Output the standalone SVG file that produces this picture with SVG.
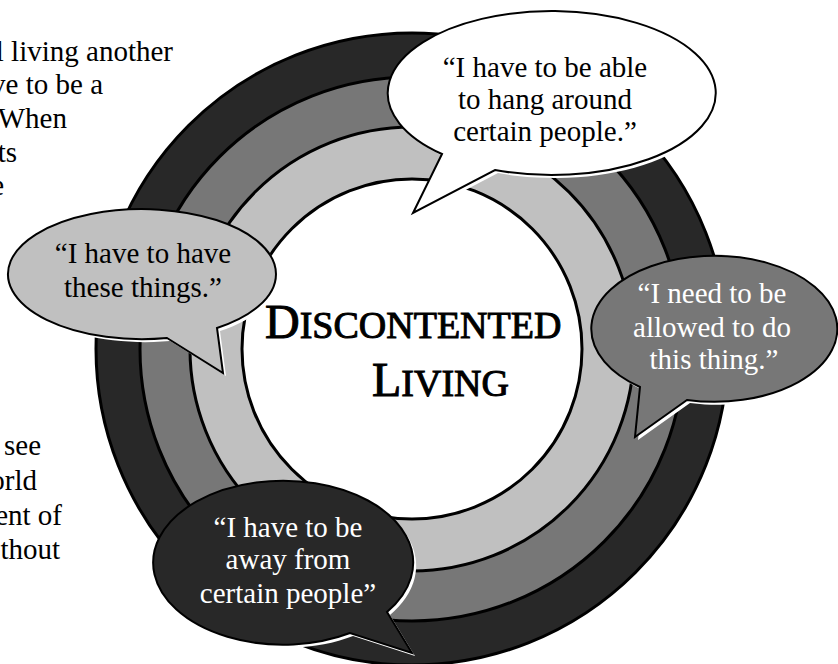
<svg xmlns="http://www.w3.org/2000/svg" width="838" height="664" viewBox="0 0 838 664">
<style>
.body{font-family:"Liberation Serif","Times New Roman",serif;font-size:29px;fill:#000}
.bt{font-family:"Liberation Serif","Times New Roman",serif;font-size:29px;text-anchor:middle}
.dk{fill:#000}
.lt{fill:#fff}
.ring{stroke:#000;stroke-width:3}
.bub{stroke:#000;stroke-width:2}
.halo{fill:#fff;stroke:none}
.title{font-family:"Liberation Serif","Times New Roman",serif;fill:#000;stroke:#000;stroke-width:1}
</style>
<rect width="838" height="664" fill="#fff"/>
<g id="side-text">
<text class="body" text-anchor="end"><tspan x="173" y="61">l living another</tspan><tspan x="103" y="94">ve to be a</tspan><tspan x="67" y="128">When</tspan><tspan x="17" y="162">ts</tspan><tspan x="4" y="195">e</tspan></text>
<text class="body" text-anchor="end"><tspan x="41" y="455">see</tspan><tspan x="37" y="490">orld</tspan><tspan x="62" y="525">ent of</tspan><tspan x="60" y="559">thout</tspan></text>
</g>
<g id="rings">
<circle class="ring" cx="412" cy="349" r="316" fill="#282828" stroke-width="4"/>
<circle class="ring" cx="412" cy="349" r="272" fill="#777777"/>
<circle class="ring" cx="412" cy="349" r="222" fill="#c0c0c0"/>
<circle class="ring" cx="412" cy="349" r="170" fill="#ffffff"/>
</g>
<g id="title">
<text class="title" x="265" y="338"><tspan font-size="48">D</tspan><tspan font-size="38">ISCONTENTED</tspan></text>
<text class="title" x="372" y="396"><tspan font-size="48">L</tspan><tspan font-size="38">IVING</tspan></text>
</g>
<g id="bubble-top">
<path class="halo" transform="translate(3,3)" d="M 442 154 L 413 213 L 495 170 A 164 82 0 1 0 442 154 Z"/>
<path class="bub" fill="#ffffff" d="M 442 154 L 413 213 L 495 170 A 164 82 0 1 0 442 154 Z"/>
<text class="bt dk"><tspan x="545" y="77">“I have to be able</tspan><tspan x="545" y="109">to hang around</tspan><tspan x="545" y="141">certain people.”</tspan></text>
</g>
<g id="bubble-left">
<path class="halo" transform="translate(3,3)" d="M 167 338 L 223 373 L 217 328 A 134 65 0 1 0 167 338 Z"/>
<path class="bub" fill="#c0c0c0" d="M 167 338 L 223 373 L 217 328 A 134 65 0 1 0 167 338 Z"/>
<text class="bt dk"><tspan x="143" y="263">“I have to have</tspan><tspan x="143" y="297">these things.”</tspan></text>
</g>
<g id="bubble-right">
<path class="halo" transform="translate(3,3)" d="M 640 387 L 635 437 L 687 400 A 123 73 0 1 0 640 387 Z"/>
<path class="bub" fill="#777777" d="M 640 387 L 635 437 L 687 400 A 123 73 0 1 0 640 387 Z"/>
<text class="bt lt"><tspan x="712" y="303">“I need to be</tspan><tspan x="712" y="337">allowed to do</tspan><tspan x="714" y="369">this thing.”</tspan></text>
</g>
<g id="bubble-bottom">
<path class="halo" transform="translate(3,3)" d="M 387 612 L 412 653 L 350 633 A 130 82 0 1 1 387 612 Z"/>
<path class="bub" fill="#282828" d="M 387 612 L 412 653 L 350 633 A 130 82 0 1 1 387 612 Z"/>
<text class="bt lt"><tspan x="288" y="537">“I have to be</tspan><tspan x="288" y="569">away from</tspan><tspan x="288" y="603">certain people”</tspan></text>
</g>
</svg>
